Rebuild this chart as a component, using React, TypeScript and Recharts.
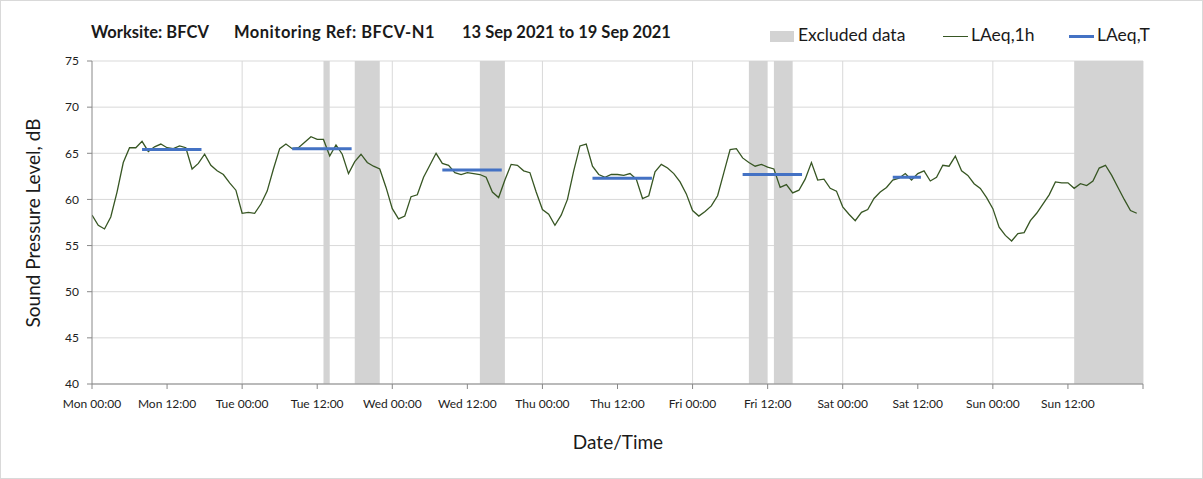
import { ComposedChart, Line, XAxis, YAxis, CartesianGrid, ReferenceArea } from 'recharts';

// hourly LAeq,1h values, Mon 00:00 .. Sun 23:00
const laeq1h = [
  // Mon
  58.3, 57.2, 56.8, 58.1, 60.8, 64.0, 65.6, 65.6, 66.3, 65.2, 65.7, 66.0,
  65.6, 65.5, 65.8, 65.6, 63.3, 63.9, 64.9, 63.7, 63.1, 62.7, 61.8, 61.0,
  // Tue
  58.5, 58.6, 58.5, 59.5, 60.9, 63.3, 65.5, 66.0, 65.5, 65.6, 66.2, 66.8,
  66.5, 66.5, 64.7, 65.9, 64.9, 62.8, 64.1, 64.9, 64.0, 63.6, 63.3, 61.3,
  // Wed
  59.0, 57.9, 58.2, 60.3, 60.5, 62.4, 63.7, 65.0, 63.9, 63.7, 62.9, 62.7,
  62.9, 62.8, 62.7, 62.4, 60.8, 60.2, 62.1, 63.8, 63.7, 63.1, 62.9, 60.8,
  // Thu
  58.9, 58.4, 57.2, 58.3, 60.0, 63.1, 65.8, 66.0, 63.6, 62.7, 62.4, 62.7,
  62.7, 62.6, 62.8, 62.2, 60.1, 60.4, 63.0, 63.8, 63.4, 62.8, 61.9, 60.6,
  // Fri
  58.8, 58.2, 58.7, 59.3, 60.4, 62.9, 65.4, 65.5, 64.5, 64.0, 63.6, 63.8,
  63.5, 63.3, 61.3, 61.6, 60.7, 61.0, 62.2, 64.0, 62.1, 62.2, 61.2, 60.9,
  // Sat
  59.2, 58.4, 57.7, 58.6, 58.9, 60.1, 60.8, 61.3, 62.1, 62.3, 62.8, 62.1,
  62.8, 63.1, 62.0, 62.4, 63.7, 63.6, 64.7, 63.1, 62.6, 61.7, 61.2, 60.2,
  // Sun
  59.0, 57.0, 56.1, 55.5, 56.3, 56.4, 57.7, 58.5, 59.5, 60.5, 61.9, 61.8,
  61.8, 61.2, 61.7, 61.5, 62.0, 63.4, 63.7, 62.6, 61.3, 60.0, 58.8, 58.5,
];

// LAeq,T periods (hours from Mon 00:00)
const periodStart = [8, 32, 56, 80, 104, 128];
const periodEnd = [17.5, 41.5, 65.5, 89.5, 113.5, 132.5];
const laeqT = [65.4, 65.5, 63.2, 62.3, 62.7, 62.4];

// excluded data ranges (hours)
const excludedStart = [37, 42, 62, 105, 109, 157];
const excludedEnd = [38, 46, 66, 108, 112, 168];

const dayNames = ['Mon', 'Tue', 'Wed', 'Thu', 'Fri', 'Sat', 'Sun'];
const xTicks = [0, 12, 24, 36, 48, 60, 72, 84, 96, 108, 120, 132, 144, 156, 168];
const yTicks = [40, 45, 50, 55, 60, 65, 70, 75];
const dayLines = [24, 48, 72, 96, 120, 144, 168];

const hourlyData = laeq1h.map((v, i) => ({ hour: i, laeq1h: v }));

const periodData: { hour: number; laeqT: number | null }[] = [];
periodStart.forEach((s, i) => {
  periodData.push({ hour: s, laeqT: laeqT[i] });
  periodData.push({ hour: periodEnd[i], laeqT: laeqT[i] });
  periodData.push({ hour: periodEnd[i] + 0.01, laeqT: null });
});

const formatTick = (h: number) => {
  if (h >= 168) return '';
  const day = dayNames[Math.floor(h / 24)];
  return `${day} ${h % 24 === 0 ? '00' : '12'}:00`;
};

const font = 'Lato, "Open Sans", sans-serif';

export default function App() {
  return (
    <div
      style={{
        position: 'absolute',
        left: 0,
        top: 0,
        width: 1203,
        height: 479,
        boxSizing: 'border-box',
        border: '1px solid #d9d9d9',
        background: '#fff',
        fontFamily: font,
      }}
    >
      <div style={{ position: 'absolute', top: 21, left: 90, fontSize: 16.5, fontWeight: 700, color: '#1a1a1a', whiteSpace: 'nowrap' }}>
        <span style={{ position: 'absolute', left: 0 }}>Worksite: BFCV</span>
        <span style={{ position: 'absolute', left: 143, letterSpacing: 0.5 }}>Monitoring Ref: BFCV-N1</span>
        <span style={{ position: 'absolute', left: 371 }}>13 Sep 2021 to 19 Sep 2021</span>
      </div>

      <div style={{ position: 'absolute', top: 23, left: 769, fontSize: 17.5, color: '#1a1a1a', whiteSpace: 'nowrap' }}>
        <span style={{ position: 'absolute', left: 0, top: 7, width: 24, height: 11, background: '#d3d3d3' }} />
        <span style={{ position: 'absolute', left: 28, top: 0 }}>Excluded data</span>
        <span style={{ position: 'absolute', left: 173, top: 12, width: 25, height: 1, background: '#375623' }} />
        <span style={{ position: 'absolute', left: 201, top: 0 }}>LAeq,1h</span>
        <span style={{ position: 'absolute', left: 299, top: 11, width: 25, height: 3, background: '#4472c4' }} />
        <span style={{ position: 'absolute', left: 327, top: 0 }}>LAeq,T</span>
      </div>

      <div
        style={{
          position: 'absolute',
          left: 31,
          top: 222,
          transform: 'translate(-50%, -50%) rotate(-90deg)',
          fontSize: 19,
          color: '#1a1a1a',
          whiteSpace: 'nowrap',
        }}
      >
        Sound Pressure Level, dB
      </div>
      <div
        style={{
          position: 'absolute',
          left: 617,
          top: 440,
          transform: 'translate(-50%, -50%)',
          fontSize: 19,
          color: '#1a1a1a',
          whiteSpace: 'nowrap',
        }}
      >
        Date/Time
      </div>

      <div style={{ position: 'absolute', left: -1, top: -1 }}>
        <ComposedChart width={1203} height={479} margin={{ top: 61, right: 60, bottom: 65, left: 0 }}>
          <CartesianGrid stroke="#d9d9d9" verticalValues={dayLines} horizontalValues={yTicks} />
          {excludedStart.map((s, i) => (
            <ReferenceArea key={i} x1={s} x2={excludedEnd[i]} y1={40} y2={75} fill="#d3d3d3" fillOpacity={1} stroke="none" ifOverflow="hidden" />
          ))}
          <XAxis
            dataKey="hour"
            type="number"
            domain={[0, 168]}
            ticks={xTicks}
            tickFormatter={formatTick}
            interval={0}
            allowDataOverflow
            height={30}
            stroke="#888"
            tickSize={5}
            tickMargin={10}
            tick={{ fontSize: 12, fill: '#222', fontFamily: font }}
          />
          <YAxis
            type="number"
            domain={[40, 75]}
            ticks={yTicks}
            width={92}
            stroke="#888"
            tickSize={5}
            tickMargin={8}
            tick={{ fontSize: 12, fill: '#222', fontFamily: font }}
          />
          <Line
            data={hourlyData}
            dataKey="laeq1h"
            type="linear"
            stroke="#375623"
            strokeWidth={1.3}
            dot={false}
            isAnimationActive={false}
          />
          <Line
            data={periodData}
            dataKey="laeqT"
            type="linear"
            stroke="#4472c4"
            strokeWidth={3}
            dot={false}
            connectNulls={false}
            isAnimationActive={false}
          />
        </ComposedChart>
      </div>
    </div>
  );
}
